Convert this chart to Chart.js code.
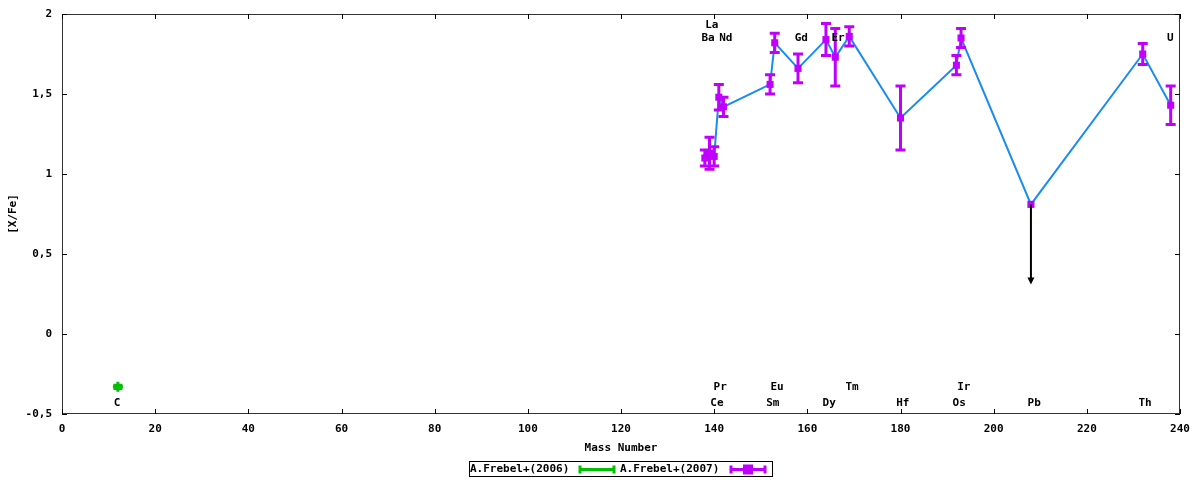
<!DOCTYPE html>
<html>
<head>
<meta charset="utf-8">
<script src="https://cdn.jsdelivr.net/npm/chart.js@4.4.1/dist/chart.umd.min.js"></script>
<style>
  html, body { margin: 0; padding: 0; background: #fff; }
  #wrap { width: 1200px; height: 480px; }
</style>
</head>
<body>
<div id="wrap"><canvas id="abund" width="1200" height="480"></canvas></div>
<script>
// A.Frebel+(2007): r-process elements, mass number vs [X/Fe]
const massNumbers = [138, 139, 140, 141, 142, 152, 153, 158, 164, 166, 169, 180, 192, 193, 208, 232, 238];
const xFe        = [1.10, 1.13, 1.11, 1.48, 1.42, 1.56, 1.82, 1.66, 1.84, 1.73, 1.86, 1.35, 1.68, 1.85, 0.81, 1.75, 1.43];
const xFeErr     = [0.05, 0.10, 0.06, 0.08, 0.06, 0.06, 0.06, 0.09, 0.10, 0.18, 0.06, 0.20, 0.06, 0.06, 0, 0.065, 0.12];
const upperLimit = [false, false, false, false, false, false, false, false, false, false, false, false, false, false, true, false, false];
const limitDrop  = 0.5;

// A.Frebel+(2006): carbon
const massNumbers06 = [12];
const xFe06         = [-0.33];
const xFeErr06      = [0.01];

// element name annotations (data coordinates)
const elemNames = ['La', 'Ba', 'Nd', 'Gd', 'Er', 'U', 'Pr', 'Eu', 'Tm', 'Ir', 'C', 'Ce', 'Sm', 'Dy', 'Hf', 'Os', 'Pb', 'Th'];
const elemX     = [139.5, 138.7, 142.5, 158.7, 166.6, 237.9, 141.3, 153.5, 169.6, 193.6, 11.8, 140.6, 152.6, 164.7, 180.5, 192.6, 208.7, 232.5];
const elemY     = [1.93, 1.85, 1.85, 1.85, 1.85, 1.85, -0.33, -0.33, -0.33, -0.33, -0.43, -0.43, -0.43, -0.43, -0.43, -0.43, -0.43, -0.43];

const xTicks = [0, 20, 40, 60, 80, 100, 120, 140, 160, 180, 200, 220, 240];
const yTicks = [-0.5, 0, 0.5, 1, 1.5, 2];

const FONT = 'DejaVu Sans Mono';
const PINK = '#c000ff';
const GREEN = '#00c000';
const BLUE = '#1a8cf0';

function fmt(v) { return String(v).replace('.', ','); }

function drawErrBar(ctx, x, yLo, yHi, color, capW) {
  ctx.strokeStyle = color;
  ctx.lineWidth = 3;
  ctx.beginPath();
  ctx.moveTo(x, yLo); ctx.lineTo(x, yHi);
  ctx.moveTo(x - capW / 2, yLo); ctx.lineTo(x + capW / 2, yLo);
  ctx.moveTo(x - capW / 2, yHi); ctx.lineTo(x + capW / 2, yHi);
  ctx.stroke();
}

const extras = {
  id: 'extras',
  afterDatasetsDraw(chart) {
    const ctx = chart.ctx;
    const xs = chart.scales.x, ys = chart.scales.y;
    ctx.save();
    // error bars
    massNumbers.forEach((m, i) => {
      if (upperLimit[i] || !xFeErr[i]) return;
      drawErrBar(ctx, xs.getPixelForValue(m), ys.getPixelForValue(xFe[i] - xFeErr[i]),
        ys.getPixelForValue(xFe[i] + xFeErr[i]), PINK, 10);
    });
    massNumbers06.forEach((m, i) => {
      drawErrBar(ctx, xs.getPixelForValue(m), ys.getPixelForValue(xFe06[i] - xFeErr06[i]),
        ys.getPixelForValue(xFe06[i] + xFeErr06[i]), GREEN, 9);
    });
    // upper limit arrows
    massNumbers.forEach((m, i) => {
      if (!upperLimit[i]) return;
      const px = xs.getPixelForValue(m);
      const y0 = ys.getPixelForValue(xFe[i]);
      const y1 = ys.getPixelForValue(xFe[i] - limitDrop);
      ctx.strokeStyle = '#000';
      ctx.fillStyle = '#000';
      ctx.lineWidth = 2;
      ctx.beginPath(); ctx.moveTo(px, y0); ctx.lineTo(px, y1 - 4); ctx.stroke();
      ctx.beginPath();
      ctx.moveTo(px - 3.5, y1 - 7); ctx.lineTo(px + 3.5, y1 - 7); ctx.lineTo(px, y1); ctx.closePath();
      ctx.fill();
    });
    ctx.restore();
  },
  afterDraw(chart) {
    const ctx = chart.ctx;
    const a = chart.chartArea;
    const xs = chart.scales.x, ys = chart.scales.y;
    ctx.save();
    // frame
    ctx.strokeStyle = '#333';
    ctx.lineWidth = 1;
    ctx.strokeRect(a.left + 0.5, a.top + 0.5, a.right - a.left - 1, a.bottom - a.top - 1);
    // inward ticks, mirrored
    ctx.strokeStyle = '#000';
    ctx.beginPath();
    xTicks.forEach(t => {
      const px = Math.round(xs.getPixelForValue(t)) + 0.5;
      ctx.moveTo(px, a.bottom); ctx.lineTo(px, a.bottom - 5);
      ctx.moveTo(px, a.top); ctx.lineTo(px, a.top + 5);
    });
    yTicks.forEach(t => {
      const py = Math.round(ys.getPixelForValue(t)) + 0.5;
      ctx.moveTo(a.left, py); ctx.lineTo(a.left + 5, py);
      ctx.moveTo(a.right, py); ctx.lineTo(a.right - 5, py);
    });
    ctx.stroke();
    // element labels
    ctx.fillStyle = '#000';
    ctx.font = 'bold 11px "' + FONT + '"';
    ctx.textAlign = 'center';
    ctx.textBaseline = 'middle';
    elemNames.forEach((n, i) => {
      ctx.fillText(n, xs.getPixelForValue(elemX[i]), ys.getPixelForValue(elemY[i]));
    });
    // legend
    const lx = 469, ly = 461, lw = 303, lh = 15;
    ctx.strokeStyle = '#000';
    ctx.lineWidth = 1;
    ctx.strokeRect(lx + 0.5, ly + 0.5, lw, lh);
    ctx.textAlign = 'left';
    const cy = ly + lh / 2 + 1;
    ctx.fillText('A.Frebel+(2006)', 470, cy);
    ctx.fillText('A.Frebel+(2007)', 620, cy);
    function sample(x0, x1, color, withPoint) {
      ctx.strokeStyle = color;
      ctx.lineWidth = 3;
      ctx.beginPath();
      ctx.moveTo(x0, cy); ctx.lineTo(x1, cy);
      ctx.moveTo(x0, cy - 4); ctx.lineTo(x0, cy + 4);
      ctx.moveTo(x1, cy - 4); ctx.lineTo(x1, cy + 4);
      ctx.stroke();
      if (withPoint) {
        ctx.fillStyle = color;
        const mx = (x0 + x1) / 2;
        ctx.fillRect(mx - 5, cy - 5, 10, 10);
        ctx.fillStyle = '#000';
      }
    }
    sample(580, 614, GREEN, false);
    sample(731, 765, PINK, true);
    ctx.restore();
  }
};

const ctx = document.getElementById('abund').getContext('2d');
const chart = new Chart(ctx, {
  type: 'scatter',
  data: {
    datasets: [{
      label: 'A.Frebel+(2006)',
      data: massNumbers06.map((m, i) => ({ x: m, y: xFe06[i] })),
      pointStyle: 'cross',
      pointRadius: 5,
      pointBorderWidth: 3,
      pointBorderColor: GREEN,
      pointBackgroundColor: GREEN,
      showLine: false
    }, {
      label: 'A.Frebel+(2007)',
      data: massNumbers.map((m, i) => ({ x: m, y: xFe[i] })),
      showLine: true,
      borderColor: BLUE,
      borderWidth: 2,
      tension: 0,
      pointStyle: 'rect',
      pointRadius: 5,
      pointBorderWidth: 0,
      pointBackgroundColor: PINK,
      pointBorderColor: PINK
    }]
  },
  options: {
    responsive: false,
    animation: false,
    layout: { padding: { left: 0, right: 20, top: 14, bottom: 0 } },
    plugins: {
      legend: { display: false },
      tooltip: { enabled: false }
    },
    scales: {
      x: {
        type: 'linear',
        min: 0,
        max: 240,
        afterFit: s => { s.height = 66; },
        afterBuildTicks: s => { s.ticks = xTicks.map(v => ({ value: v })); },
        grid: { display: false },
        border: { display: false },
        ticks: {
          color: '#000',
          padding: 1,
          font: { family: FONT, size: 11, weight: 'bold' }
        },
        title: {
          display: true,
          text: 'Mass Number',
          color: '#000',
          font: { family: FONT, size: 11, weight: 'bold' },
          padding: { top: 0, bottom: 25 }
        }
      },
      y: {
        type: 'linear',
        min: -0.5,
        max: 2,
        afterFit: s => { s.width = 62; },
        afterBuildTicks: s => { s.ticks = yTicks.map(v => ({ value: v })); },
        grid: { display: false },
        border: { display: false },
        ticks: {
          color: '#000',
          padding: 2,
          callback: v => fmt(v),
          font: { family: FONT, size: 11, weight: 'bold' }
        },
        title: {
          display: true,
          text: '[X/Fe]',
          color: '#000',
          font: { family: FONT, size: 11, weight: 'bold' },
          padding: { top: 7, bottom: 0 }
        }
      }
    }
  },
  plugins: [extras]
});
</script>
</body>
</html>
